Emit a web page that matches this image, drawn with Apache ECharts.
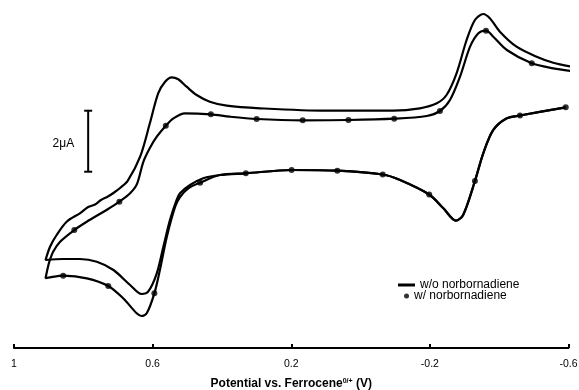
<!DOCTYPE html>
<html>
<head>
<meta charset="utf-8">
<script src="https://cdn.jsdelivr.net/npm/echarts@6/dist/echarts.min.js"></script>
<style>
	html, body { margin: 0; padding: 0; background: #fff; }
	#main { width: 579px; height: 390px; }
</style>
</head>
<body>
<div id="main"></div>
<script>
	// potential (V vs Fc) / current (uA, relative)
	// w/o norbornadiene: return scan (right -> left) then forward scan (left -> right)
	var woNbd = [
		[-0.592, 7.892], [-0.460, 7.623], [-0.422, 7.531], [-0.383, 7.148], [-0.354, 6.384],
		[-0.330, 5.475], [-0.296, 4.361], [-0.275, 4.174], [-0.239, 4.580], [-0.198, 5.033],
		[-0.114, 5.508], [-0.064, 5.689], [0.067, 5.813], [0.199, 5.836], [0.331, 5.728],
		[0.406, 5.672], [0.454, 5.564], [0.492, 5.344], [0.521, 5.072], [0.531, 4.852],
		[0.550, 4.197], [0.569, 3.321], [0.588, 2.449], [0.613, 1.846], [0.632, 1.770],
		[0.665, 2.066], [0.713, 2.557], [0.761, 2.830], [0.810, 2.918], [0.858, 2.918],
		[0.909, 2.885],
		[0.896, 3.321], [0.877, 3.705], [0.848, 4.141], [0.810, 4.416], [0.786, 4.623],
		[0.766, 4.705], [0.749, 4.852], [0.729, 4.967], [0.711, 5.098], [0.694, 5.246],
		[0.672, 5.480],
		[0.636, 6.272], [0.608, 7.367], [0.584, 8.351], [0.564, 8.731],
		[0.545, 8.875], [0.526, 8.810], [0.502, 8.567], [0.473, 8.295], [0.435, 8.075],
		[0.386, 7.944], [0.290, 7.859], [0.098, 7.780], [-0.094, 7.780], [-0.171, 7.859],
		[-0.220, 8.023], [-0.248, 8.295], [-0.277, 9.007], [-0.306, 10.098], [-0.330, 10.754],
		[-0.354, 10.951], [-0.373, 10.810], [-0.402, 10.371], [-0.450, 9.879], [-0.508, 9.551],
		[-0.556, 9.354], [-0.610, 9.223]
	];

	// w/ norbornadiene: same scan order
	var wNbd = [
		[-0.592, 7.892], [-0.460, 7.623], [-0.422, 7.531], [-0.383, 7.148], [-0.354, 6.384],
		[-0.330, 5.475], [-0.296, 4.361], [-0.275, 4.174], [-0.239, 4.580], [-0.198, 5.033],
		[-0.114, 5.508], [-0.064, 5.689], [0.067, 5.813], [0.199, 5.836], [0.331, 5.728],
		[0.406, 5.672], [0.463, 5.420], [0.497, 5.236], [0.521, 4.951], [0.535, 4.633],
		[0.559, 3.649], [0.579, 2.557], [0.595, 1.793], [0.617, 1.138], [0.632, 1.049],
		[0.646, 1.138], [0.685, 1.630], [0.728, 2.033], [0.790, 2.285], [0.858, 2.370],
		[0.896, 2.318], [0.909, 2.285],
		[0.904, 2.557], [0.898, 2.830], [0.887, 3.157], [0.867, 3.485], [0.826, 3.869],
		[0.790, 4.141], [0.733, 4.525], [0.696, 4.797], [0.665, 5.072], [0.645, 5.380],
		[0.627, 6.098], [0.608, 6.557], [0.588, 6.928], [0.562, 7.289], [0.540, 7.531],
		[0.507, 7.695], [0.432, 7.662], [0.377, 7.584], [0.300, 7.508], [0.167, 7.466],
		[0.035, 7.475], [-0.097, 7.518], [-0.191, 7.607], [-0.229, 7.770], [-0.258, 8.131],
		[-0.287, 8.895], [-0.316, 9.879], [-0.340, 10.318], [-0.362, 10.403], [-0.383, 10.207],
		[-0.422, 9.770], [-0.494, 9.334], [-0.556, 9.170], [-0.609, 9.082]
	];

	// points on the w/ curve that carry a marker
	var wNbdMarks = [
		[-0.592, 7.892], [-0.460, 7.623], [-0.330, 5.475], [-0.198, 5.033], [-0.064, 5.689],
		[0.067, 5.813], [0.199, 5.836], [0.331, 5.728], [0.463, 5.420], [0.595, 1.793],
		[0.728, 2.033], [0.858, 2.370], [0.826, 3.869], [0.696, 4.797], [0.562, 7.289],
		[0.432, 7.662], [0.300, 7.508], [0.167, 7.466], [0.035, 7.475], [-0.097, 7.518],
		[-0.229, 7.770], [-0.362, 10.403], [-0.494, 9.334]
	];

	var xTicks = [1, 0.6, 0.2, -0.2, -0.6];
	// 2 uA scale bar
	var scaleBarE = 0.786;
	var scaleBarI = [5.78, 7.78];

	var font = 'Liberation Sans';
	var myChart = echarts.init(document.getElementById('main'), null, { renderer: 'canvas' });
	myChart.setOption({
		animation: false,
		backgroundColor: '#fff',
		grid: { left: 14, right: 10.5, top: 0, bottom: 42, outerBoundsMode: 'none', containLabel: false },
		legend: [{
			left: 398, top: 279, padding: 0,
			itemWidth: 17, itemHeight: 3,
			icon: 'rect',
			data: ['w/o norbornadiene'],
			textStyle: { fontFamily: font, fontSize: 12, color: '#000' }
		}, {
			left: 404, top: 290, padding: 0,
			itemWidth: 5, itemHeight: 5,
			icon: 'circle',
			data: ['w/ norbornadiene'],
			textStyle: { fontFamily: font, fontSize: 12, color: '#000' }
		}],
		xAxis: {
			type: 'value',
			inverse: true,
			min: -0.6,
			max: 1,
			splitLine: { show: false },
			axisLine: { onZero: false, lineStyle: { color: '#000', width: 2 } },
			axisTick: { inside: true, length: 4, customValues: xTicks, lineStyle: { color: '#000', width: 2 } },
			axisLabel: { customValues: xTicks, margin: 11, color: '#000', fontFamily: font, fontSize: 10.5 },
			name: 'Potential vs. Ferrocene{sup|0/+} (V)',
			nameLocation: 'middle',
			nameGap: 30,
			nameTextStyle: {
				fontFamily: font, fontSize: 12, fontWeight: 'bold', color: '#000',
				rich: { sup: { fontFamily: font, fontSize: 7, fontWeight: 'bold', color: '#000', verticalAlign: 'top' } }
			}
		},
		yAxis: { type: 'value', show: false, min: 0, max: 11.41 },
		series: [{
			name: 'w/o norbornadiene',
			type: 'line',
			data: woNbd,
			smooth: 0.3,
			showSymbol: false,
			clip: false,
			color: '#000',
			lineStyle: { color: '#000', width: 2.2 }
		}, {
			name: 'w/ norbornadiene line',
			type: 'line',
			data: wNbd,
			smooth: 0.3,
			showSymbol: false,
			clip: false,
			lineStyle: { color: '#000', width: 2.2 }
		}, {
			name: 'w/ norbornadiene',
			type: 'scatter',
			data: wNbdMarks,
			symbol: 'circle',
			symbolSize: 6,
			clip: false,
			itemStyle: { color: '#000' },
			z: 3
		}, {
			name: 'scale',
			type: 'line',
			data: [
				{ value: [scaleBarE, scaleBarI[0]] },
				{ value: [scaleBarE, (scaleBarI[0] + scaleBarI[1]) / 2], symbolSize: 0,
					label: { show: true, position: 'left', distance: 14, offset: [0, 2], formatter: '2μA',
						fontFamily: font, fontSize: 12, color: '#000' } },
				{ value: [scaleBarE, scaleBarI[1]] }
			],
			symbol: 'rect',
			symbolSize: [8, 2],
			showSymbol: true,
			itemStyle: { color: '#000' },
			lineStyle: { color: '#000', width: 2 }
		}]
	});
</script>
</body>
</html>
